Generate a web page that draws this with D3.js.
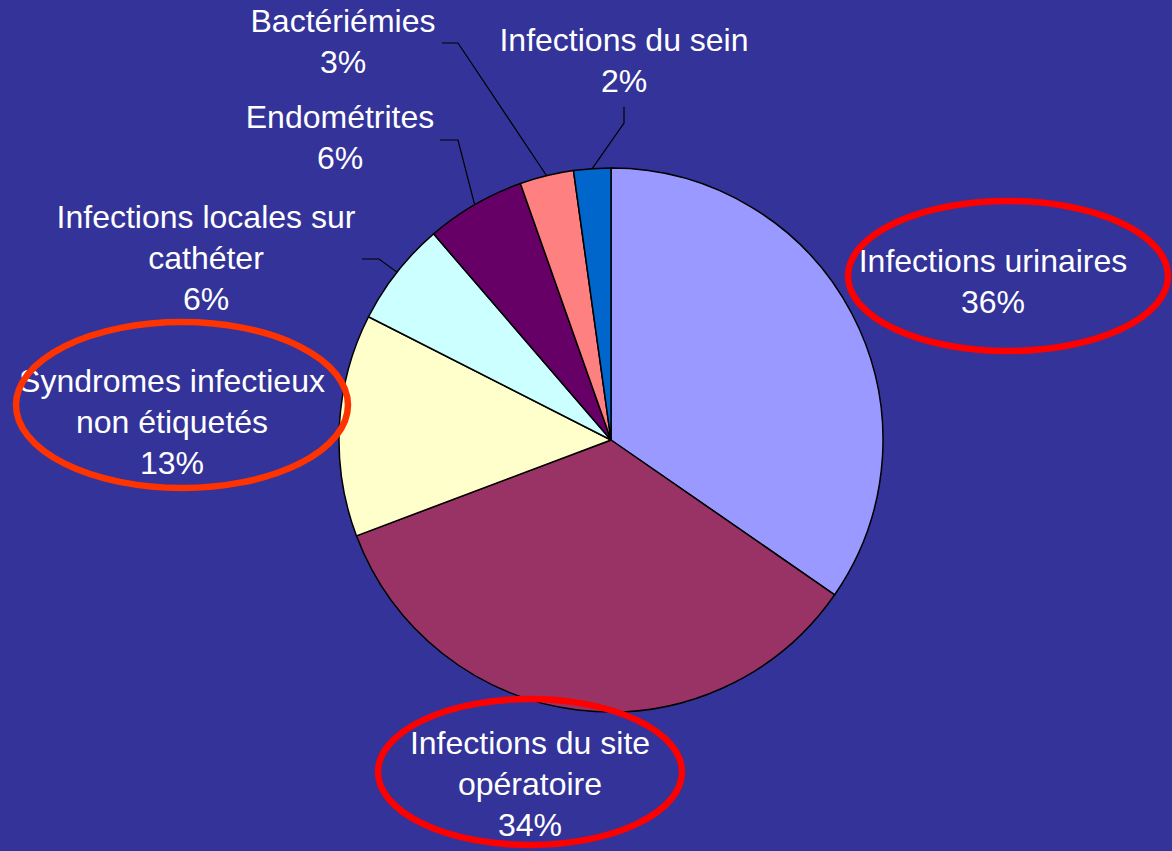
<!DOCTYPE html>
<html>

<head>
  <meta charset="utf-8">
  <style>
    html, body {
      margin: 0;
      padding: 0;
      background-color: #333399;
    }

    svg text {
      font-family: "Liberation Sans", Arial, sans-serif;
      font-size: 32px;
      fill: #fff;
    }
  </style>
</head>

<body>
  <svg id="chart" width="1172" height="851"></svg>

  <script src="https://cdnjs.cloudflare.com/ajax/libs/d3/7.8.5/d3.min.js"></script>
  <script>
    // slices, clockwise from 12 o'clock
    var categories = ['Infections urinaires', 'Infections du site opératoire',
      'Syndromes infectieux non étiquetés', 'Infections locales sur cathéter',
      'Endométrites', 'Bactériémies', 'Infections du sein'];
    var values = [34.6, 34.6, 13.2, 6.2, 5.9, 3.2, 2.2];
    var percentLabels = ['36%', '34%', '13%', '6%', '6%', '3%', '2%'];
    var labelLines = [
      ['Infections urinaires', '36%'],
      ['Infections du site', 'opératoire', '34%'],
      ['Syndromes infectieux', 'non étiquetés', '13%'],
      ['Infections locales sur', 'cathéter', '6%'],
      ['Endométrites', '6%'],
      ['Bactériémies', '3%'],
      ['Infections du sein', '2%']
    ];
    var colors = ['#9999ff', '#993366', '#ffffcc', '#ccffff', '#660066', '#ff8080', '#0066cc'];

    // label layout: centre x, first line y, leader elbow (null = no leader)
    var labelPos = [
      { x: 993, y: 264, elbow: null },
      { x: 530, y: 746, elbow: null },
      { x: 172, y: 384, elbow: null },
      { x: 206, y: 220, elbow: [[362, 259], [379, 259]] },
      { x: 340, y: 120, elbow: [[440, 140], [458, 140]] },
      { x: 343, y: 24, elbow: [[442, 43], [458, 43]] },
      { x: 624, y: 43, elbow: [[624, 107], [624, 123]] }
    ];

    // highlight ellipses drawn over the chart
    var highlights = [
      { cx: 1008, cy: 276, rx: 160, ry: 75, color: '#ff0000' },
      { cx: 182, cy: 405, rx: 166, ry: 83, color: '#ff3300' },
      { cx: 530, cy: 772, rx: 152, ry: 73, color: '#ff0000' }
    ];

    var cx = 611,
      cy = 440,
      radius = 272,
      lineHeight = 41;

    var svg = d3.select('#chart');

    svg.append('rect')
      .attr('width', 1172)
      .attr('height', 851)
      .attr('fill', '#333399');

    var pie = d3.pie()
      .sort(null)
      .value(d => d);

    var arcs = pie(values);

    var arc = d3.arc()
      .innerRadius(0)
      .outerRadius(radius);

    var edgeArc = d3.arc()
      .innerRadius(radius)
      .outerRadius(radius);

    var g = svg.append('g')
      .attr('transform', 'translate(' + cx + ',' + cy + ')');

    g.selectAll('path')
      .data(arcs)
      .join('path')
      .attr('d', arc)
      .attr('fill', (d, i) => colors[i])
      .attr('stroke', '#000')
      .attr('stroke-width', 1.5)
      .attr('stroke-linejoin', 'round');

    // leader lines
    arcs.forEach(function (d, i) {
      var p = labelPos[i];
      if (!p.elbow) return;
      var end = edgeArc.centroid(d);
      var pts = p.elbow.concat([[end[0] + cx, end[1] + cy]]);
      svg.append('path')
        .attr('d', d3.line()(pts))
        .attr('fill', 'none')
        .attr('stroke', '#000')
        .attr('stroke-width', 1.2);
    });

    // labels
    labelLines.forEach(function (lines, i) {
      var p = labelPos[i];
      var t = svg.append('text')
        .attr('text-anchor', 'middle')
        .attr('x', p.x)
        .attr('y', p.y);
      lines.forEach(function (line, j) {
        t.append('tspan')
          .attr('x', p.x)
          .attr('dy', j === 0 ? 0 : lineHeight)
          .attr('dominant-baseline', 'middle')
          .text(line);
      });
    });

    svg.selectAll('ellipse')
      .data(highlights)
      .join('ellipse')
      .attr('cx', d => d.cx)
      .attr('cy', d => d.cy)
      .attr('rx', d => d.rx)
      .attr('ry', d => d.ry)
      .attr('fill', 'none')
      .attr('stroke', d => d.color)
      .attr('stroke-width', 6.5);
  </script>
</body>

</html>
